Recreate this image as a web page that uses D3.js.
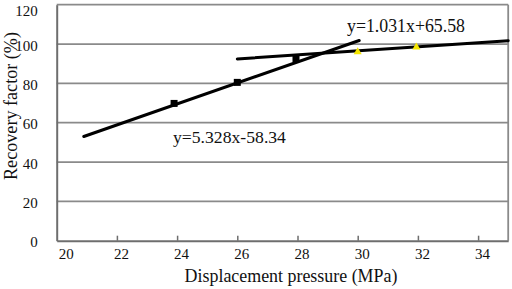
<!DOCTYPE html>
<html><head><meta charset="utf-8">
<script src="https://cdn.jsdelivr.net/npm/d3@7"></script>
<style>
html,body{margin:0;padding:0;background:#fff;}
</style></head>
<body>
<script>
const xTicks = [20, 22, 24, 26, 28, 30, 32, 34];
const yTicks = [0, 20, 40, 60, 80, 100, 120];
const squarePoints = [[23.9, 69.8], [26.0, 80.5], [27.95, 92.6]];
const trianglePoints = [[30.0, 96.0], [31.95, 98.4]];
const trendLow = [[20.9, 53.0], [30.05, 101.8]];
const trendHigh = [[26.0, 92.4], [35.0, 101.7]];
const labelLow = "y=5.328x-58.34";
const labelHigh = "y=1.031x+65.58";
const xTitle = "Displacement pressure (MPa)";
const yTitle = "Recovery factor (%)";

const FONT = '"Liberation Serif","Times New Roman","DejaVu Serif",serif';
const W = 512, H = 289;
const svg = d3.select("body").append("svg").attr("width", W).attr("height", H)
  .style("font-family", FONT);
const x = d3.scaleLinear().domain([20, 35]).range([56.7, 508.2]);
const y = d3.scaleLinear().domain([0, 120]).range([240.7, 4.7]);

// fit a text's font size so its width matches a target width
function fit(sel, target, base) {
  const w = sel.node().getComputedTextLength();
  if (w > 0) sel.attr("font-size", base * target / w);
  return sel;
}

// gridlines
svg.append("g").selectAll("line").data(yTicks.filter(d => d > 0)).join("line")
  .attr("x1", x(20)).attr("x2", x(35)).attr("y1", d => y(d)).attr("y2", d => y(d))
  .attr("stroke", "#8a8a8a").attr("stroke-width", 1.8);
// right border
svg.append("line").attr("x1", x(35)).attr("x2", x(35)).attr("y1", y(120)).attr("y2", y(0))
  .attr("stroke", "#8a8a8a").attr("stroke-width", 1.8);

// x axis
const xAxis = d3.axisBottom(x).tickValues(xTicks).tickSizeInner(-5).tickSizeOuter(0).tickFormat(d3.format("d"));
const gx = svg.append("g").attr("transform", `translate(0,${y(0)})`).call(xAxis).attr("font-family", FONT);
gx.select(".domain").attr("stroke", "#6e6e6e").attr("stroke-width", 2);
gx.selectAll(".tick line").attr("stroke", "#6e6e6e").attr("stroke-width", 1.5)
  .attr("display", d => d === 20 ? "none" : null);
gx.selectAll(".tick text").attr("font-size", 15)
  .attr("fill", "#111").attr("y", 8).attr("dx", d => d === 20 ? 9 : 4);

// y axis
const yAxis = d3.axisLeft(y).tickValues(yTicks).tickSize(0).tickFormat(d3.format("d"));
const gy = svg.append("g").attr("transform", `translate(${x(20)},0)`).call(yAxis).attr("font-family", FONT);
gy.select(".domain").attr("stroke", "#6e6e6e").attr("stroke-width", 2);
gy.selectAll(".tick text").attr("font-size", 15)
  .attr("fill", "#111").attr("x", -19).attr("dy", d => d === 120 ? "0.7em" : "0.4em");

// trend lines
const line = d3.line().x(d => x(d[0])).y(d => y(d[1]));
[trendLow, trendHigh].forEach(t => {
  svg.append("path").attr("d", line(t)).attr("fill", "none")
    .attr("stroke", "#000").attr("stroke-width", 3).attr("stroke-linecap", "round");
});

// markers
svg.append("g").selectAll("rect").data(squarePoints).join("rect")
  .attr("x", d => x(d[0]) - 3.5).attr("y", d => y(d[1]) - 3.5)
  .attr("width", 7).attr("height", 7).attr("fill", "#000");
const tri = d3.symbol().type(d3.symbolTriangle).size(28);
svg.append("g").selectAll("path").data(trianglePoints).join("path")
  .attr("transform", d => `translate(${x(d[0])},${y(d[1])})`)
  .attr("d", tri).attr("fill", "#f5e600");

// equation labels
fit(svg.append("text").attr("x", 173).attr("y", 143).attr("font-size", 16).attr("fill", "#111")
  .text(labelLow), 113, 16);
fit(svg.append("text").attr("x", 347).attr("y", 32).attr("font-size", 16).attr("fill", "#111")
  .text(labelHigh), 118, 16);

// titles
fit(svg.append("text").attr("x", 291).attr("y", 282).attr("text-anchor", "middle")
  .attr("font-size", 17).attr("fill", "#111").text(xTitle), 213, 17);
fit(svg.append("text").attr("transform", "translate(17,106) rotate(-90)").attr("text-anchor", "middle")
  .attr("font-size", 17).attr("fill", "#111").text(yTitle), 148, 17);
</script>
</body></html>
